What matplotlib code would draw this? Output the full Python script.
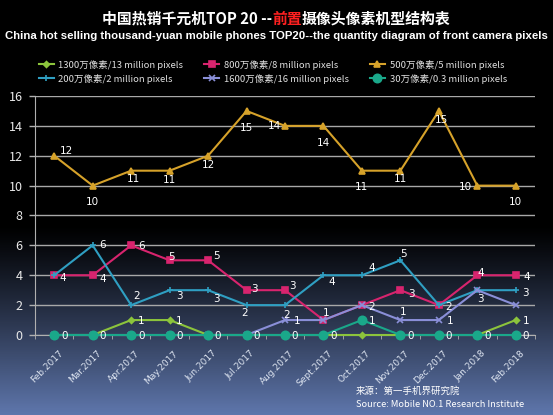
import numpy as np
import matplotlib
matplotlib.use("Agg")
import matplotlib.pyplot as plt
from matplotlib.colors import LinearSegmentedColormap
from matplotlib.transforms import ScaledTranslation

plt.rcParams['font.family'] = ['Noto Sans CJK SC', 'DejaVu Sans']

months = ["Feb.2017", "Mar.2017", "Apr.2017", "May.2017", "Jun.2017", "Jul.2017",
          "Aug.2017", "Sept.2017", "Oct.2017", "Nov.2017", "Dec.2017", "Jan.2018", "Feb.2018"]

names = ["1300万像素/13 million pixels", "800万像素/8 million pixels", "500万像素/5 million pixels",
         "200万像素/2 million pixels", "1600万像素/16 million pixels", "30万像素/0.3 million pixels"]

px13m = [0, 0, 1, 1, 0, 0, 0, 0, 0, 0, 0, 0, 1]
px8m = [4, 4, 6, 5, 5, 3, 3, 1, 2, 3, 2, 4, 4]
px5m = [12, 10, 11, 11, 12, 15, 14, 14, 11, 11, 15, 10, 10]
px2m = [4, 6, 2, 3, 3, 2, 2, 4, 4, 5, 2, 3, 3]
px16m = [0, 0, 0, 0, 0, 0, 1, 1, 2, 1, 1, 3, 2]
px03m = [0, 0, 0, 0, 0, 0, 0, 0, 1, 0, 0, 0, 0]

series = [px13m, px8m, px5m, px2m, px16m, px03m]
colors = ["#8cc43c", "#d8246e", "#d6a22a", "#2f9fc2", "#8a8fd8", "#1aa88a"]
markers = ["D", "s", "^", "+", "x", "o"]
msizes = [3, 4, 4, 5, 5, 6]

# label offsets in pixels, None = no label
N = None
off13m = [N, N, (10, -1), (10, -1), N, N, N, N, N, N, N, N, (10, -1)]
off8m = [(9, -3), (10, -4), (10, -1), (2, 3), (8, 4), (8, 1), (7, 4), (3, 7), (10, -2), (11, -4), (10, -2), (3, 2), (11, -2)]
off5m = [(12, 5), (0, -16), (2, -8), (0, -9), (0, -9), (0, -17), (-11, 0), (0, -17), (0, -16), (0, -8), (3, -9), (-12, -1), (0, -16)]
off2m = [N, (10, 0), (5, 9), (10, -6), (8, -9), (-2, -8), (2, -10), (8, -7), (10, 7), (3, 6), N, (3, -9), (10, -3)]
off16m = [N, N, N, N, N, N, (12, -1), N, N, (3, 8), (11, -1), N, N]
off03m = [(10, -1)] * 13
offsets = [off13m, off8m, off5m, off2m, off16m, off03m]

W, H = 553, 415
fig = plt.figure(figsize=(W / 100, H / 100), dpi=100)

# background gradient
bg = fig.add_axes([0, 0, 1, 1], zorder=-10)
rows = np.arange(H)
t = np.clip((rows - 225) / (H - 225), 0, 1) ** 1.15
grad = np.tile(t[:, None], (1, 4))
cmap = LinearSegmentedColormap.from_list("bg", ["#000000", "#5f77ad"])
bg.imshow(grad, aspect="auto", cmap=cmap, vmin=0, vmax=1, extent=[0, 1, 0, 1], origin="upper")
bg.axis("off")

ax = fig.add_axes([35 / W, (H - 335) / H, 500 / W, 239 / H])
ax.set_facecolor("none")
x = np.arange(len(months))

lines = []
for vals, c, m, ms, name in zip(series, colors, markers, msizes, names):
    ln, = ax.plot(x, vals, color=c, lw=1.5, marker=m, ms=ms, mew=1.2, label=name, clip_on=False, zorder=3)
    lines.append(ln)

for vals, offs in zip(series, offsets):
    for xi, v, o in zip(x, vals, offs):
        if o is None:
            continue
        ax.annotate(str(v), (xi, v), xytext=o, textcoords="offset pixels",
                    ha="center", va="center", color="white", fontsize=7.5,
                    family="DejaVu Sans", zorder=5)

ax.set_xlim(-0.5, len(months) - 0.5)
ax.set_ylim(0, 16)
ax.set_yticks(range(0, 17, 2))
ax.yaxis.grid(True, color="#a8a8a8", lw=1)
ax.set_axisbelow(True)
for s in ["top", "right"]:
    ax.spines[s].set_visible(False)
ax.spines["left"].set_color("#b0b0b0")
ax.spines["bottom"].set_color("#b0b0b0")
ax.tick_params(axis="y", colors="#e8e8e8", labelsize=9, length=4, width=1, pad=5)
ax.tick_params(axis="y", color="#b0b0b0")
ax.set_xticks(x)
ax.set_xticklabels(months, rotation=45, ha="right", rotation_mode="anchor",
                   fontsize=6.5, color="#dde4f0", family="DejaVu Sans")
ax.tick_params(axis="x", length=0, pad=10)
shift = ScaledTranslation(4 / 100, 0, fig.dpi_scale_trans)
for lab in ax.get_xticklabels():
    lab.set_transform(lab.get_transform() + shift)
ax.set_xticks(np.arange(-0.5, len(months), 1), minor=True)
ax.tick_params(axis="x", which="minor", length=3, color="#b0b0b0")

# row-wise legend order
order = [0, 3, 1, 4, 2, 5]
leg = fig.legend([lines[i] for i in order], [names[i] for i in order],
                 loc="upper left", bbox_to_anchor=(30 / W, (H - 51) / H), ncol=3,
                 frameon=False, fontsize=6.8, handlelength=1.6, handletextpad=0.5,
                 columnspacing=2.2, labelspacing=0.45, labelcolor="#e0e0e0")

# title with red part
parts = [("中国热销千元机TOP 20 --", "white"), ("前置", "#ff2020"), ("摄像头像素机型结构表", "white")]
fig.canvas.draw()
r = fig.canvas.get_renderer()
texts = []
for s, c in parts:
    texts.append(fig.text(0, (H - 19) / H, s, color=c, fontsize=10.7, fontweight="bold",
                          ha="left", va="center"))
widths = [tt.get_window_extent(r).width for tt in texts]
xs = W / 2 - sum(widths) / 2
for tt, w in zip(texts, widths):
    tt.set_x(xs / W)
    xs += w

fig.text(0.5, (H - 36) / H, "China hot selling thousand-yuan mobile phones TOP20--the quantity diagram of front camera pixels",
         color="white", fontsize=8.2, fontweight="bold", ha="center", va="center", family="Liberation Sans")

fig.text(356 / W, (H - 391) / H, "来源：第一手机界研究院", color="white", fontsize=6.8, va="center")
fig.text(356 / W, (H - 404) / H, "Source: Mobile NO.1 Research Institute", color="white", fontsize=6.7, va="center")

fig.savefig("out.png", dpi=100)
